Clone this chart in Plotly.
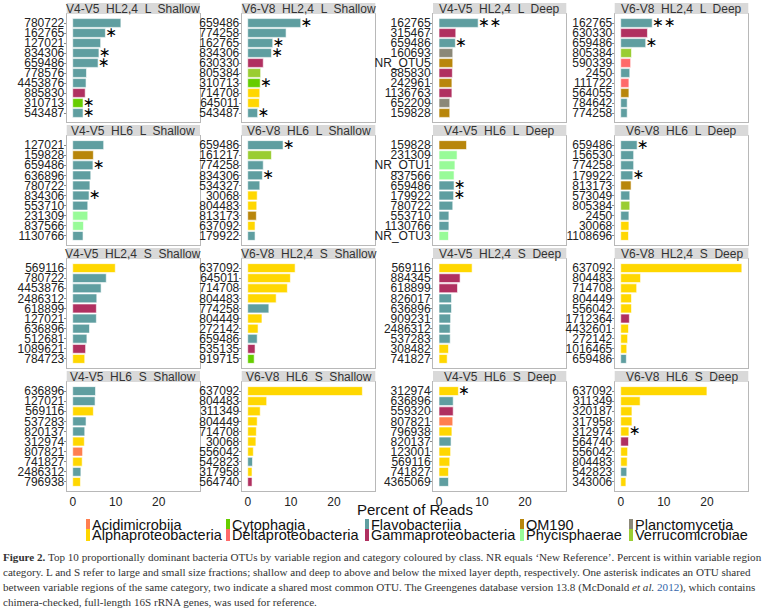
import plotly.graph_objects as go

# ---------------- data ----------------
classes = ["Acidimicrobiia", "Alphaproteobacteria", "Cytophagia", "Deltaproteobacteria",
           "Flavobacteriia", "Gammaproteobacteria", "OM190", "Phycisphaerae",
           "Planctomycetia", "Verrucomicrobiae"]
class_codes = ["Aci", "Alp", "Cyt", "Del", "Fla", "Gam", "OM", "Phy", "Pla", "Ver"]
class_colors = ["#FF7F50", "#FFD700", "#66CD00", "#FF6A6A", "#5F9EA0",
                "#B03060", "#B8860B", "#98FB98", "#8B8878", "#9ACD32"]

panel_titles = [
    "V4-V5  HL2,4  L  Shallow", "V6-V8  HL2,4  L  Shallow", "V4-V5  HL2,4  L  Deep", "V6-V8  HL2,4  L  Deep",
    "V4-V5  HL6  L  Shallow", "V6-V8  HL6  L  Shallow", "V4-V5  HL6  L  Deep", "V6-V8  HL6  L  Deep",
    "V4-V5  HL2,4  S  Shallow", "V6-V8  HL2,4  S  Shallow", "V4-V5  HL2,4  S  Deep", "V6-V8  HL2,4  S  Deep",
    "V4-V5  HL6  S  Shallow", "V6-V8  HL6  S  Shallow", "V4-V5  HL6  S  Deep", "V6-V8  HL6  S  Deep",
]

p1_otu = ["780722", "162765", "127021", "834306", "659486", "778576", "4453876", "885830", "310713", "543487"]
p1_pct = [11.2, 7.6, 6.5, 6.1, 5.9, 3.2, 3.1, 2.9, 2.4, 2.4]
p1_cls = ["Fla", "Fla", "Fla", "Fla", "Fla", "Fla", "Fla", "Gam", "Cyt", "Fla"]
p1_star = [0, 1, 0, 1, 1, 0, 0, 0, 1, 1]

p2_otu = ["659486", "774258", "162765", "834306", "630330", "805384", "310713", "714708", "645011", "543487"]
p2_pct = [12.3, 8.9, 5.8, 5.5, 3.6, 3.0, 2.9, 2.8, 2.7, 2.3]
p2_cls = ["Fla", "Fla", "Fla", "Fla", "Gam", "Ver", "Cyt", "Alp", "Alp", "Fla"]
p2_star = [1, 0, 1, 1, 0, 0, 1, 0, 0, 1]

p3_otu = ["162765", "315467", "659486", "160693", "NR_OTU5", "885830", "242961", "1136763", "652209", "159828"]
p3_pct = [9.1, 3.9, 3.8, 3.2, 3.2, 3.1, 3.0, 3.0, 2.5, 2.5]
p3_cls = ["Fla", "Gam", "Fla", "Pla", "OM", "Gam", "OM", "Gam", "Pla", "OM"]
p3_star = [2, 0, 1, 0, 0, 0, 0, 0, 0, 0]

p4_otu = ["162765", "630330", "659486", "805384", "590339", "2450", "111722", "564055", "784642", "774258"]
p4_pct = [7.3, 6.2, 5.8, 2.5, 2.3, 2.1, 1.9, 1.9, 1.5, 1.5]
p4_cls = ["Fla", "Gam", "Fla", "Ver", "Del", "Fla", "Del", "OM", "Fla", "Fla"]
p4_star = [2, 0, 1, 0, 0, 0, 0, 0, 0, 0]

p5_otu = ["127021", "159828", "659486", "636896", "780722", "834306", "553710", "231309", "837566", "1130766"]
p5_pct = [7.2, 4.8, 4.7, 4.2, 4.0, 3.8, 3.5, 3.5, 2.5, 2.4]
p5_cls = ["Fla", "OM", "Fla", "Fla", "Fla", "Fla", "Fla", "Phy", "Phy", "Fla"]
p5_star = [0, 0, 1, 0, 0, 1, 0, 0, 0, 0]

p6_otu = ["659486", "161217", "774258", "834306", "534327", "30068", "804483", "813173", "637092", "179922"]
p6_pct = [8.2, 5.5, 3.6, 3.4, 2.8, 2.2, 2.1, 2.0, 1.7, 1.7]
p6_cls = ["Fla", "Ver", "Fla", "Fla", "Fla", "Alp", "Alp", "OM", "Alp", "Fla"]
p6_star = [1, 0, 0, 1, 0, 0, 0, 0, 0, 0]

p7_otu = ["159828", "231309", "NR_OTU1", "837566", "659486", "179922", "780722", "553710", "1130766", "NR_OTU3"]
p7_pct = [6.4, 4.2, 3.7, 3.5, 3.5, 3.4, 3.2, 2.3, 2.3, 2.2]
p7_cls = ["OM", "Phy", "Phy", "Phy", "Fla", "Fla", "Fla", "Fla", "Fla", "Phy"]
p7_star = [0, 0, 0, 0, 1, 1, 0, 0, 0, 0]

p8_otu = ["659486", "156530", "774258", "179922", "813173", "573049", "805384", "2450", "30068", "1108696"]
p8_pct = [3.8, 3.0, 3.0, 2.8, 2.4, 2.1, 2.1, 1.9, 1.9, 1.8]
p8_cls = ["Fla", "Fla", "Fla", "Fla", "OM", "Fla", "Ver", "Fla", "Alp", "Alp"]
p8_star = [1, 0, 0, 1, 0, 0, 0, 0, 0, 0]

p9_otu = ["569116", "780722", "4453876", "2486312", "618899", "127021", "636896", "512681", "1089621", "784723"]
p9_pct = [9.9, 7.8, 6.6, 5.6, 5.5, 5.5, 3.9, 3.3, 3.0, 2.8]
p9_cls = ["Alp", "Fla", "Fla", "Fla", "Gam", "Fla", "Fla", "Fla", "Gam", "Alp"]
p9_star = [0, 0, 0, 0, 0, 0, 0, 0, 0, 0]

p10_otu = ["637092", "645011", "714708", "804483", "774258", "804449", "272142", "659486", "535135", "919715"]
p10_pct = [11.0, 9.9, 9.2, 6.6, 4.9, 3.3, 2.4, 2.2, 1.7, 1.5]
p10_cls = ["Alp", "Alp", "Alp", "Alp", "Fla", "Alp", "Alp", "Fla", "Gam", "Cyt"]
p10_star = [0, 0, 0, 0, 0, 0, 0, 0, 0, 0]

p11_otu = ["569116", "884345", "618899", "826017", "636896", "909231", "2486312", "537283", "308482", "741827"]
p11_pct = [7.7, 4.9, 4.3, 2.9, 2.9, 2.7, 2.6, 2.6, 2.2, 1.9]
p11_cls = ["Alp", "Gam", "Gam", "Fla", "Fla", "Fla", "Fla", "Fla", "Alp", "Alp"]
p11_star = [0, 0, 0, 0, 0, 0, 0, 0, 0, 0]

p12_otu = ["637092", "804483", "714708", "804449", "556042", "1712364", "4432601", "272142", "1016465", "659486"]
p12_pct = [28.1, 4.6, 3.7, 2.5, 2.5, 2.0, 1.8, 1.6, 1.4, 1.3]
p12_cls = ["Alp", "Alp", "Alp", "Alp", "Alp", "Gam", "Alp", "Alp", "Alp", "Fla"]
p12_star = [0, 0, 0, 0, 0, 0, 0, 0, 0, 0]

p13_otu = ["636896", "127021", "569116", "537283", "820137", "312974", "807821", "741827", "2486312", "796938"]
p13_pct = [5.3, 5.2, 4.8, 3.1, 2.8, 2.7, 2.3, 2.2, 1.9, 1.8]
p13_cls = ["Fla", "Fla", "Alp", "Fla", "Fla", "Alp", "Aci", "Alp", "Fla", "Alp"]
p13_star = [0, 0, 0, 0, 0, 0, 0, 0, 0, 0]

p14_otu = ["637092", "804483", "311349", "804449", "714708", "30068", "556042", "542823", "317958", "564740"]
p14_pct = [26.6, 4.4, 2.9, 2.2, 2.0, 1.9, 1.3, 1.1, 1.0, 1.0]
p14_cls = ["Alp", "Alp", "Alp", "Alp", "Alp", "Alp", "Alp", "Fla", "Alp", "Gam"]
p14_star = [0, 0, 0, 0, 0, 0, 0, 0, 0, 0]

p15_otu = ["312974", "636896", "559320", "807821", "796938", "820137", "123001", "569116", "741827", "4365069"]
p15_pct = [4.5, 3.3, 3.3, 3.2, 3.0, 2.8, 2.7, 2.5, 2.2, 2.2]
p15_cls = ["Alp", "Fla", "Gam", "Aci", "Alp", "Fla", "Alp", "Alp", "Alp", "Fla"]
p15_star = [1, 0, 0, 0, 0, 0, 0, 0, 0, 0]

p16_otu = ["637092", "311349", "320187", "317958", "312974", "564740", "556042", "804483", "542823", "343006"]
p16_pct = [20.0, 4.5, 2.6, 2.6, 1.9, 1.8, 1.6, 1.5, 1.4, 1.2]
p16_cls = ["Alp", "Alp", "Alp", "Alp", "Alp", "Gam", "Alp", "Alp", "Fla", "Alp"]
p16_star = [0, 0, 0, 0, 1, 0, 0, 0, 0, 0]

x_ticks = [0, 10, 20]
x_title = "Percent of Reads"

panels = [
    (p1_otu, p1_pct, p1_cls, p1_star), (p2_otu, p2_pct, p2_cls, p2_star),
    (p3_otu, p3_pct, p3_cls, p3_star), (p4_otu, p4_pct, p4_cls, p4_star),
    (p5_otu, p5_pct, p5_cls, p5_star), (p6_otu, p6_pct, p6_cls, p6_star),
    (p7_otu, p7_pct, p7_cls, p7_star), (p8_otu, p8_pct, p8_cls, p8_star),
    (p9_otu, p9_pct, p9_cls, p9_star), (p10_otu, p10_pct, p10_cls, p10_star),
    (p11_otu, p11_pct, p11_cls, p11_star), (p12_otu, p12_pct, p12_cls, p12_star),
    (p13_otu, p13_pct, p13_cls, p13_star), (p14_otu, p14_pct, p14_cls, p14_star),
    (p15_otu, p15_pct, p15_cls, p15_star), (p16_otu, p16_pct, p16_cls, p16_star),
]

# ---------------- layout geometry (px) ----------------
W, H = 768, 614
col_x = [(66.7, 200.0), (241.7, 375.3), (433.0, 566.3), (614.7, 748.3)]
row_y = [(14, 122), (136, 245), (259, 368), (382, 491)]
strip_y = [(3, 14), (125, 136), (248, 259), (371, 382)]

code_color = dict(zip(class_codes, class_colors))
FONT = "Liberation Sans, Arial, sans-serif"

fig = go.Figure()
layout = dict(
    width=W, height=H, margin=dict(l=0, r=0, t=0, b=0),
    paper_bgcolor="white", plot_bgcolor="white", showlegend=False,
    font=dict(family=FONT, color="#222"),
)
shapes = []
annotations = []

for i, (otu, pct, cls, star) in enumerate(panels):
    r, c = divmod(i, 4)
    k = i + 1
    xs = "" if k == 1 else str(k)
    x0, x1 = col_x[c]
    y0, y1 = row_y[r]
    fig.add_trace(go.Bar(
        x=pct, y=otu, orientation="h",
        marker=dict(color=[code_color[v] for v in cls], line=dict(color="white", width=0.6)),
        width=0.88, cliponaxis=False,
        xaxis="x" + xs, yaxis="y" + xs, hoverinfo="x+y",
    ))
    sx = [v for v, s in zip(pct, star) if s]
    sy = [o for o, s in zip(otu, star) if s]
    st = ["\u2217" * s for s in star if s]
    if st:
        fig.add_trace(go.Scatter(
            x=sx, y=sy, mode="text", text=st, textposition="middle right",
            textfont=dict(family="DejaVu Sans", size=14, color="black"),
            cliponaxis=False, xaxis="x" + xs, yaxis="y" + xs, hoverinfo="skip",
        ))
    layout["xaxis" + xs] = dict(
        domain=[x0 / W, x1 / W], anchor="y" + xs, range=[-1.4, 29.6],
        tickvals=x_ticks, showticklabels=(r == 3), ticks="",
        tickfont=dict(size=12, color="#222"),
        showgrid=False, zeroline=False, showline=True, mirror=True,
        linecolor="#B8B8B8", linewidth=1, fixedrange=True,
    )
    layout["yaxis" + xs] = dict(
        domain=[1 - y1 / H, 1 - y0 / H], anchor="x" + xs, type="category",
        categoryorder="array", categoryarray=otu, range=[9.9, -0.9],
        tickmode="array", tickvals=otu, ticktext=otu,
        ticks="outside", ticklen=2, tickcolor="#888", tickfont=dict(size=12, color="#222"),
        ticklabelstandoff=-3,
        showgrid=False, zeroline=False, showline=True, mirror=True,
        linecolor="#B8B8B8", linewidth=1, fixedrange=True,
    )
    sy0, sy1 = strip_y[r]
    shapes.append(dict(type="rect", xref="paper", yref="paper",
                       x0=x0 / W, x1=x1 / W, y0=1 - sy1 / H, y1=1 - sy0 / H,
                       fillcolor="#D9D9D9", line=dict(width=0)))
    annotations.append(dict(text=panel_titles[i], xref="paper", yref="paper",
                            x=(x0 + x1) / 2 / W, y=1 - (sy0 + sy1) / 2 / H,
                            xanchor="center", yanchor="middle", showarrow=False,
                            font=dict(size=12, color="#333")))

# axis title
annotations.append(dict(text=x_title, xref="paper", yref="paper", x=415 / W, y=1 - 509 / H,
                        xanchor="center", yanchor="middle", showarrow=False,
                        font=dict(size=15, color="#111")))

# legend (2 rows x 5 columns, column-major order)
leg_x = [86, 226, 365, 520, 629]
leg_y = [525, 535]
for j, (name, col) in enumerate(zip(classes, class_colors)):
    cc, rr = divmod(j, 2)
    lx, ly = leg_x[cc], leg_y[rr]
    shapes.append(dict(type="rect", xref="paper", yref="paper",
                       x0=lx / W, x1=(lx + 4) / W, y0=1 - (ly + 6) / H, y1=1 - (ly - 6) / H,
                       fillcolor=col, line=dict(width=0)))
    annotations.append(dict(text=name, xref="paper", yref="paper", x=(lx + 4) / W, y=1 - ly / H,
                            xanchor="left", yanchor="middle", showarrow=False,
                            font=dict(family=FONT, size=14.5, color="#111")))

# caption
cap_lines = [
    "<b>Figure 2.</b> Top 10 proportionally dominant bacteria OTUs by variable region and category coloured by class. NR equals \u2018New Reference\u2019. Percent is within variable region",
    "category. L and S refer to large and small size fractions; shallow and deep to above and below the mixed layer depth, respectively. One asterisk indicates an OTU shared",
    "between variable regions of the same category, two indicate a shared most common OTU. The Greengenes database version 13.8 (McDonald <i>et al.</i> <span style='color:#3366aa'>2012</span>), which contains",
    "chimera-checked, full-length 16S rRNA genes, was used for reference.",
]
cap_y = [557, 572, 587, 602]
for line, ly in zip(cap_lines, cap_y):
    annotations.append(dict(text=line, xref="paper", yref="paper", x=1 / W, y=1 - ly / H,
                            xanchor="left", yanchor="middle", showarrow=False,
                            font=dict(family="Liberation Serif, serif", size=11.1, color="#333")))

layout["shapes"] = shapes
layout["annotations"] = annotations
fig.update_layout(**layout)
fig.write_html("out.html", config={"displayModeBar": False},
               post_script="document.body.style.margin='0';document.body.style.overflow='hidden';")
